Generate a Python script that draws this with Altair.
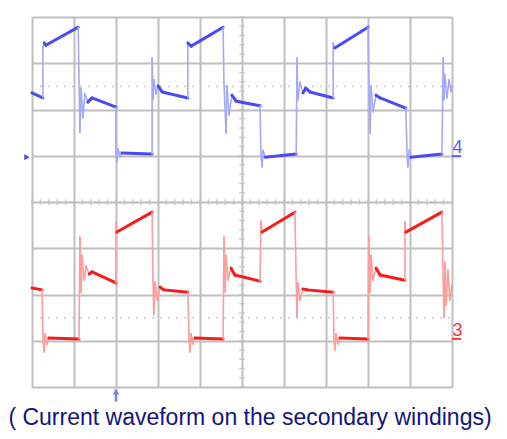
import altair as alt
import pandas as pd

# scope screen: 10 x 8 divisions, values in divisions
blue_x = [0.00, 0.26, 0.26, 0.29, 0.33, 1.10, 1.12, 1.14, 1.17, 1.21, 1.26, 1.33, 1.43, 2.00,
          2.00, 2.02, 2.05, 2.10, 2.14, 2.86, 2.86, 2.88, 2.90, 2.95, 3.00, 3.10, 3.71,
          3.71, 3.79, 4.55, 4.57, 4.62, 4.64, 4.69, 4.76, 4.86, 5.43, 5.45, 5.48, 5.50, 5.55,
          6.29, 6.31, 6.33, 6.38, 6.45, 6.52, 6.62, 7.17, 7.17, 7.21, 8.00, 8.02, 8.05, 8.07,
          8.12, 8.19, 8.29, 8.90, 8.93, 8.95, 8.98, 9.02, 9.76, 9.79, 9.81, 9.83, 9.88, 9.93,
          9.98, 10.00]
blue_y = [2.36, 2.25, 3.35, 3.44, 3.39, 3.78, 2.59, 1.51, 2.46, 1.82, 2.34, 2.16, 2.25, 2.05,
          1.04, 0.86, 1.15, 0.97, 1.06, 1.04, 3.11, 2.21, 2.64, 2.34, 2.51, 2.38, 2.25,
          3.44, 3.37, 3.78, 2.59, 1.49, 2.51, 1.88, 2.31, 2.18, 2.08, 1.04, 0.76, 1.12, 0.97,
          1.04, 3.11, 2.21, 2.59, 2.36, 2.46, 2.38, 2.25, 3.44, 3.33, 3.78, 2.59, 1.49, 2.51,
          1.95, 2.31, 2.25, 2.03, 1.04, 0.76, 1.12, 0.97, 1.04, 3.11, 2.21, 2.75, 2.25, 2.64,
          2.38, 2.51]

red_x = [0.00, 0.24, 0.26, 0.29, 0.31, 0.36, 0.40, 1.12, 1.14, 1.17, 1.19, 1.24, 1.29, 1.36,
         1.43, 2.00, 2.00, 2.02, 2.86, 2.88, 2.90, 2.93, 2.98, 3.05, 3.14, 3.71, 3.74, 3.76,
         3.79, 3.83, 3.88, 4.55, 4.57, 4.60, 4.62, 4.67, 4.74, 4.83, 5.43, 5.45, 5.48, 6.26,
         6.29, 6.31, 6.33, 6.38, 6.45, 6.55, 7.17, 7.19, 7.21, 7.24, 7.29, 7.33, 8.00, 8.02,
         8.05, 8.07, 8.12, 8.19, 8.29, 8.88, 8.88, 8.90, 9.76, 9.79, 9.81, 9.83, 9.86, 9.90,
         9.95, 10.00]
red_y = [-1.86, -1.90, -2.96, -3.24, -2.85, -3.07, -2.94, -2.96, -0.76, -1.95, -1.15, -1.69,
         -1.38, -1.56, -1.51, -1.75, -0.43, -0.65, -0.22, -1.64, -2.44, -1.73, -2.12, -1.84,
         -1.90, -1.95, -2.96, -3.24, -2.85, -3.07, -2.94, -2.96, -0.76, -1.95, -1.15, -1.69,
         -1.43, -1.58, -1.71, -0.41, -0.65, -0.22, -1.69, -2.49, -1.75, -2.12, -1.88, -1.90,
         -1.95, -2.96, -3.20, -2.85, -3.07, -2.94, -2.96, -0.76, -1.95, -1.15, -1.69, -1.43,
         -1.58, -1.69, -0.43, -0.65, -0.22, -1.69, -2.49, -1.30, -2.23, -1.47, -2.12, -1.79]

cursor_levels = [2.5, -2.5]
channel_labels = ["4", "3"]
channel_levels = [0.99, -2.96]
caption = "( Current waveform on the secondary windings)"

GRID = "#bfbfbf"
X_SCALE = alt.Scale(domain=[0, 10], nice=False, zero=False)
Y_SCALE = alt.Scale(domain=[-4, 4], nice=False, zero=False)


def build_segments(xs, ys, trace):
    """Pairs consecutive points into segments; fast edges are drawn lighter."""
    rows = []
    for i in range(len(xs) - 1):
        dx = abs(xs[i + 1] - xs[i]) * 42
        dy = abs(ys[i + 1] - ys[i]) * 46.25
        rows.append({"x": xs[i], "y": ys[i], "x2": xs[i + 1], "y2": ys[i + 1],
                     "trace": trace, "edge": "fast" if dy > 2 * dx else "slow"})
    return rows


segments = pd.DataFrame(build_segments(blue_x, blue_y, "blue") + build_segments(red_x, red_y, "red"))
segments["kind"] = segments["trace"] + "-" + segments["edge"]

base = alt.Chart(segments)

grid = base.mark_point(opacity=0).encode(
    x=alt.X("x:Q", scale=X_SCALE, axis=alt.Axis(values=list(range(11)), grid=True, labels=False,
                                               ticks=False, domain=False, title=None,
                                               gridColor=GRID, gridWidth=2, gridOpacity=1)),
    y=alt.Y("y:Q", scale=Y_SCALE, axis=alt.Axis(values=list(range(-4, 5)), grid=True, labels=False,
                                               ticks=False, domain=False, title=None,
                                               gridColor=GRID, gridWidth=2, gridOpacity=1)),
)

small = [i / 5 for i in range(51)]
x_ticks = alt.Chart(pd.DataFrame({"x": small})).mark_tick(
    orient="vertical", size=6, color=GRID, thickness=1.5
).encode(x=alt.X("x:Q", scale=X_SCALE), y=alt.datum(0, scale=Y_SCALE))

y_ticks = alt.Chart(pd.DataFrame({"y": [i / 5 - 4 for i in range(41)]})).mark_tick(
    orient="horizontal", size=6, color=GRID, thickness=1.5
).encode(y=alt.Y("y:Q", scale=Y_SCALE), x=alt.datum(5, scale=X_SCALE))

cursors = alt.Chart(pd.DataFrame({"y": cursor_levels})).mark_rule(
    color="#c8c8c8", strokeDash=[2, 6], strokeWidth=1.5
).encode(y=alt.Y("y:Q", scale=Y_SCALE), x=alt.value(0), x2=alt.value(420))

traces = base.mark_rule(strokeCap="round").encode(
    x=alt.X("x:Q", scale=X_SCALE),
    y=alt.Y("y:Q", scale=Y_SCALE),
    x2="x2:Q",
    y2="y2:Q",
    color=alt.Color("kind:N", legend=None, scale=alt.Scale(
        domain=["blue-fast", "blue-slow", "red-fast", "red-slow"],
        range=["#a3a9fb", "#4b4bf5", "#ff9c9c", "#f41c1c"])),
    strokeWidth=alt.condition(alt.datum.edge == "fast", alt.value(1.6), alt.value(3)),
)

labels_df = pd.DataFrame({"label": channel_labels, "y": channel_levels, "trace": ["blue", "red"]})
channel_text = alt.Chart(labels_df).mark_text(
    align="center", baseline="bottom", fontSize=18, font="Liberation Sans", clip=False, dy=1
).encode(
    x=alt.datum(10.13, scale=X_SCALE),
    y=alt.Y("y:Q", scale=Y_SCALE),
    text="label:N",
    color=alt.Color("trace:N", legend=None,
                    scale=alt.Scale(domain=["blue", "red"], range=["#5a5af5", "#f53a3a"])),
)
channel_marks = alt.Chart(labels_df).mark_rule(strokeWidth=2, clip=False).encode(
    x=alt.datum(10.0, scale=X_SCALE),
    x2=alt.datum(10.22),
    y=alt.Y("y:Q", scale=Y_SCALE),
    color=alt.Color("trace:N", legend=None,
                    scale=alt.Scale(domain=["blue", "red"], range=["#5a5af5", "#f53a3a"])),
)

ground_marker = alt.Chart(pd.DataFrame({"x": [-0.12], "y": [0.97]})).mark_point(
    shape="triangle-right", filled=True, size=40, color="#4b4bf5", opacity=1, clip=False
).encode(x=alt.X("x:Q", scale=X_SCALE), y=alt.Y("y:Q", scale=Y_SCALE))

trigger_line = alt.Chart(pd.DataFrame({"x": [2.0], "y": [-4.05], "y2": [-4.32]})).mark_rule(
    color="#8080f5", strokeWidth=2.5, clip=False
).encode(x=alt.X("x:Q", scale=X_SCALE), y=alt.Y("y:Q", scale=Y_SCALE), y2="y2:Q")
trigger_head = alt.Chart(pd.DataFrame({"x": [2.0], "y": [-4.1]})).mark_point(
    shape="triangle-up", filled=True, size=45, color="#8080f5", opacity=1, clip=False
).encode(x=alt.X("x:Q", scale=X_SCALE), y=alt.Y("y:Q", scale=Y_SCALE))

caption_text = alt.Chart(pd.DataFrame({"t": [caption]})).mark_text(
    align="center", baseline="alphabetic", fontSize=23, font="Liberation Sans", color="#14147a"
).encode(x=alt.value(218), y=alt.value(408), text="t:N")

chart = alt.layer(
    grid, cursors, x_ticks, y_ticks, traces, channel_marks, channel_text,
    ground_marker, trigger_line, trigger_head, caption_text,
).resolve_scale(color="independent").properties(
    width=420,
    height=370,
    autosize=alt.AutoSizeParams(type="none"),
    padding={"left": 24, "top": 9, "right": 46, "bottom": 50},
).configure_view(stroke=GRID, strokeWidth=2).configure(background="white")

chart.save("out.html", embed_options={"renderer": "svg", "actions": False})
